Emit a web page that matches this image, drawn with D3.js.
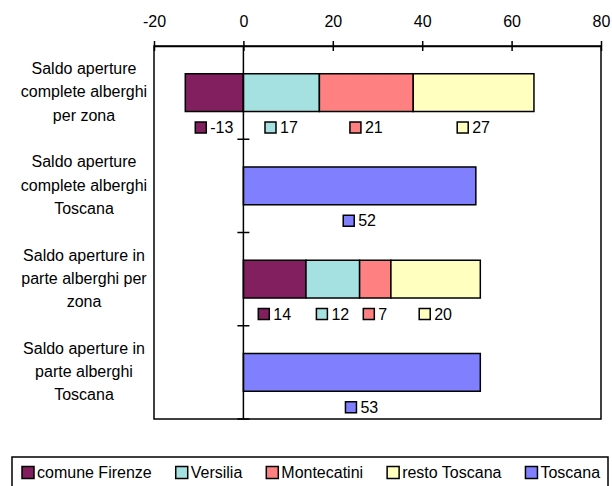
<!DOCTYPE html>
<html>
<head>
<meta charset="utf-8">
<script src="https://cdn.jsdelivr.net/npm/d3@7"></script>
<style>
    body { margin: 0; background: #fff; }
    svg { display: block; font-family: Arial, "Liberation Sans", sans-serif; }
</style>
</head>
<body>
<svg id="chart" width="612" height="486"></svg>
<script>
// Chart data
const categories = [
    'Saldo aperture\ncomplete alberghi\nper zona',
    'Saldo aperture\ncomplete alberghi\nToscana',
    'Saldo aperture in\nparte alberghi per\nzona',
    'Saldo aperture in\nparte alberghi\nToscana'
];
const seriesNames = ['comune Firenze', 'Versilia', 'Montecatini', 'resto Toscana', 'Toscana'];
const seriesColors = ['#82205f', '#a6e1e1', '#ff8080', '#ffffc0', '#8080ff'];

const firenze     = [-13, null, 14, null];
const versilia    = [17, null, 12, null];
const montecatini = [21, null, 7, null];
const resto       = [27, null, 20, null];
const toscana     = [null, 52, null, 53];

const xTicks = [-20, 0, 20, 40, 60, 80];

const seriesValues = [firenze, versilia, montecatini, resto, toscana];

const svg = d3.select('#chart');
const fontSize = 16;

const plot = { left: 154, right: 601, top: 46, bottom: 419 };

const x = d3.scaleLinear()
    .domain([xTicks[0], xTicks[xTicks.length - 1]])
    .range([plot.left, plot.right]);

const y = d3.scaleBand()
    .domain(categories)
    .range([plot.top, plot.bottom])
    .padding(0);

const barH = y.bandwidth() * 0.405;

// Stacked layout (negatives go left of zero)
const rows = categories.map((c, i) => {
    const row = { cat: c };
    seriesNames.forEach((s, j) => { row[s] = seriesValues[j][i] || 0; });
    return row;
});
const stacked = d3.stack()
    .keys(seriesNames)
    .offset(d3.stackOffsetDiverging)(rows);

// Plot frame
svg.append('rect')
    .attr('x', plot.left)
    .attr('y', plot.top)
    .attr('width', plot.right - plot.left)
    .attr('height', plot.bottom - plot.top)
    .style('fill', 'none')
    .style('stroke', '#000')
    .style('stroke-width', 1.5);

// Bars
stacked.forEach((layer, j) => {
    svg.append('g')
        .selectAll('rect')
        .data(layer.filter((d, i) => seriesValues[j][i] !== null))
        .join('rect')
        .attr('x', d => x(Math.min(d[0], d[1])))
        .attr('y', d => y(d.data.cat) + (y.bandwidth() - barH) / 2)
        .attr('width', d => Math.abs(x(d[1]) - x(d[0])))
        .attr('height', barH)
        .style('fill', seriesColors[j])
        .style('stroke', '#000')
        .style('stroke-width', 1.5);
});

// Zero line with category ticks
svg.append('line')
    .attr('x1', x(0)).attr('x2', x(0))
    .attr('y1', plot.top).attr('y2', plot.bottom)
    .style('stroke', '#000')
    .style('stroke-width', 1.5);

svg.append('g')
    .selectAll('line')
    .data(categories)
    .join('line')
    .attr('x1', x(0) - 6).attr('x2', x(0) + 6)
    .attr('y1', d => y(d) + y.bandwidth())
    .attr('y2', d => y(d) + y.bandwidth())
    .style('stroke', '#000')
    .style('stroke-width', 1.5);

// Top value axis
const axis = d3.axisTop(x)
    .tickValues(xTicks)
    .tickFormat(d => String(d))
    .tickSizeInner(5)
    .tickSizeOuter(0)
    .tickPadding(14);

const axisG = svg.append('g')
    .attr('transform', `translate(0,${plot.top})`)
    .call(axis);
axisG.select('.domain').style('stroke', '#000').style('stroke-width', 1.5);
axisG.selectAll('.tick line')
    .attr('y1', 5).attr('y2', -5)
    .style('stroke', '#000')
    .style('stroke-width', 1.5);
axisG.selectAll('.tick text')
    .style('font-size', fontSize + 'px')
    .style('font-family', 'Arial, "Liberation Sans", sans-serif')
    .style('fill', '#000');

// Category labels
const lineH = 23.3;
categories.forEach(c => {
    const lines = c.split('\n');
    const cy = y(c) + y.bandwidth() / 2 - 1;
    const t = svg.append('text')
        .attr('text-anchor', 'middle')
        .style('font-size', fontSize + 'px')
        .style('fill', '#000');
    lines.forEach((ln, k) => {
        t.append('tspan')
            .attr('x', 84)
            .attr('y', cy + (k - (lines.length - 1) / 2) * lineH + 5.7)
            .text(ln);
    });
});

// Data labels with legend keys
stacked.forEach((layer, j) => {
    layer.forEach((d, i) => {
        const v = seriesValues[j][i];
        if (v === null) return;
        const cx = (x(d[0]) + x(d[1])) / 2;
        const cy = y(d.data.cat) + (y.bandwidth() + barH) / 2 + 16;
        const g = svg.append('g');
        const txt = g.append('text')
            .attr('y', cy + 5.7)
            .style('font-size', fontSize + 'px')
            .style('fill', '#000')
            .text(String(v));
        const tw = txt.node().getComputedTextLength();
        const total = 11 + 4 + tw;
        const x0 = cx - total / 2;
        g.append('rect')
            .attr('x', x0)
            .attr('y', cy - 5.5)
            .attr('width', 11)
            .attr('height', 11)
            .style('fill', seriesColors[j])
            .style('stroke', '#000')
            .style('stroke-width', 1.5);
        txt.attr('x', x0 + 15);
    });
});

// Legend
const legend = svg.append('g');
legend.append('rect')
    .attr('x', 12)
    .attr('y', 457)
    .attr('width', 596)
    .attr('height', 40)
    .style('fill', '#fff')
    .style('stroke', '#000')
    .style('stroke-width', 1.5);

let lx = 22;
const ly = 472.5;
seriesNames.forEach((s, j) => {
    legend.append('rect')
        .attr('x', lx)
        .attr('y', ly - 6)
        .attr('width', 12)
        .attr('height', 12)
        .style('fill', seriesColors[j])
        .style('stroke', '#000')
        .style('stroke-width', 1.5);
    const t = legend.append('text')
        .attr('x', lx + 15)
        .attr('y', ly + 5.7)
        .style('font-size', fontSize + 'px')
        .style('fill', '#000')
        .text(s);
    lx += 15 + t.node().getComputedTextLength() + 24;
});
</script>
</body>
</html>
